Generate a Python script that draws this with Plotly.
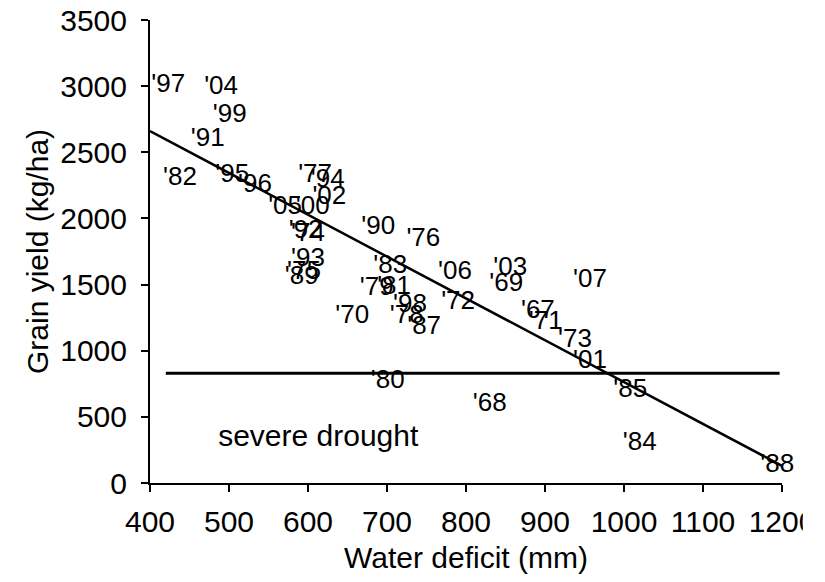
import plotly.graph_objects as go

# Year labels, water deficit (mm) and grain yield (kg/ha)
years = ["'97", "'04", "'99", "'91", "'82", "'95", "'96", "'05", "'00", "'77",
         "'94", "'02", "'92", "'74", "'93", "'75", "'89", "'90", "'83", "'79",
         "'81", "'98", "'78", "'87", "'70", "'76", "'06", "'72", "'03", "'69",
         "'07", "'67", "'71", "'73", "'01", "'80", "'68", "'85", "'84", "'88"]
deficit = [423, 490, 501, 473, 438, 504, 533, 571, 606, 609,
           625, 627, 597, 600, 600, 595, 592, 689, 704, 687,
           709, 729, 725, 747, 656, 746, 786, 790, 856, 851,
           957, 891, 901, 938, 957, 701, 830, 1008, 1020, 1194]
grain_yield = [3008, 2986, 2781, 2593, 2305, 2328, 2252, 2086, 2086, 2328,
               2290, 2162, 1905, 1882, 1686, 1595, 1550, 1935, 1633, 1474,
               1481, 1345, 1255, 1172, 1262, 1837, 1595, 1361, 1625, 1504,
               1534, 1300, 1217, 1081, 915, 771, 590, 703, 295, 135]

# Regression line end points and severe-drought threshold
fit_x = [400, 1200]
fit_y = [2660, 130]
threshold_x = [420, 1197]
threshold_y = [830, 830]
note_x = [613]
note_y = [335]
note_text = ["severe drought"]

FONT = "Liberation Sans, Arial, sans-serif"

fig = go.Figure()
fig.add_trace(go.Scatter(x=threshold_x, y=threshold_y, mode="lines",
                         line=dict(color="black", width=3), hoverinfo="skip"))
fig.add_trace(go.Scatter(x=fit_x, y=fit_y, mode="lines",
                         line=dict(color="black", width=2.5), hoverinfo="skip"))
fig.add_trace(go.Scatter(x=deficit, y=grain_yield, mode="text", text=years,
                         textposition="middle center", cliponaxis=False,
                         textfont=dict(family=FONT, size=26, color="black")))
fig.add_trace(go.Scatter(x=note_x, y=note_y, mode="text", text=note_text,
                         textposition="middle center", cliponaxis=False,
                         textfont=dict(family=FONT, size=30, color="black")))

axis_common = dict(showline=True, linecolor="black", linewidth=2,
                   ticks="outside", ticklen=7, tickwidth=1.5, tickcolor="black",
                   showgrid=False, zeroline=False, automargin=False,
                   ticklabeloverflow="allow",
                   tickfont=dict(family=FONT, size=30, color="black"))

fig.update_xaxes(range=[400, 1200], tickvals=list(range(400, 1201, 100)),
                 ticklabelstandoff=4,
                 title=dict(text="Water deficit (mm)", standoff=10,
                            font=dict(family=FONT, size=30, color="black")),
                 **axis_common)
fig.update_yaxes(range=[0, 3500], tickvals=list(range(0, 3501, 500)),
                 ticklabelstandoff=8,
                 title=dict(text="Grain yield (kg/ha)", standoff=3,
                            font=dict(family=FONT, size=30, color="black")),
                 **axis_common)

# white mask clipping the right edge of the last tick label, as in the source
fig.add_shape(type="rect", xref="paper", yref="paper",
              x0=1.033, x1=1.2, y0=-0.16, y1=-0.02,
              fillcolor="white", line=dict(width=0), layer="above")

fig.update_layout(width=825, height=582, showlegend=False,
                  plot_bgcolor="white", paper_bgcolor="white",
                  margin=dict(l=142, r=51, t=12, b=107))

fig.write_html("out.html")
